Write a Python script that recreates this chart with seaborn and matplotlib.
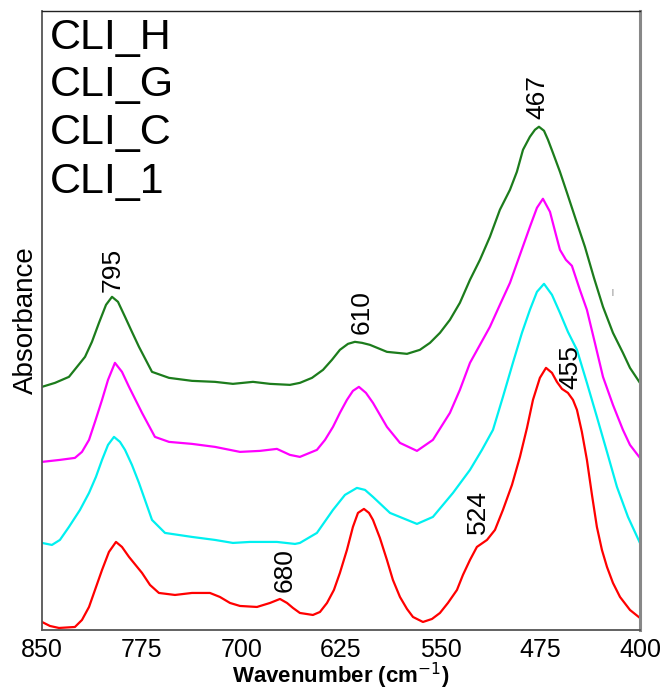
import numpy as np
import pandas as pd
import matplotlib
matplotlib.use("Agg")
import matplotlib.pyplot as plt
import seaborn as sns

# spectra (wavenumber in cm-1, absorbance in arbitrary stacked units)
wn_h = [850, 840.2, 829.7, 817.6, 812.4, 807.1, 801.8, 797.3, 792.8, 787.5, 782.3, 777.0, 767.2,
        754.4, 737.1, 719.8, 706.3, 691.2, 678.4, 663.4, 655.9, 646.8, 638.5, 631.8, 625.8, 619.7,
        614.5, 609.2, 603.2, 590.4, 575.3, 565.6, 558.0, 550.5, 543.0, 535.5, 527.9, 520.4, 512.9,
        505.4, 497.8, 492.6, 488.0, 482.8, 479.0, 476.0, 472.2, 469.2, 465.5, 460.2, 454.9, 448.2,
        441.4, 434.6, 427.8, 420.3, 412.8, 407.5, 400]
abs_h = [2.43, 2.47, 2.53, 2.73, 2.88, 3.07, 3.25, 3.33, 3.28, 3.13, 2.98, 2.83, 2.58, 2.52, 2.49,
         2.48, 2.46, 2.48, 2.46, 2.45, 2.47, 2.52, 2.60, 2.70, 2.80, 2.86, 2.88, 2.87, 2.85, 2.78,
         2.76, 2.80, 2.87, 2.97, 3.10, 3.27, 3.50, 3.70, 3.93, 4.20, 4.40, 4.58, 4.80, 4.93, 5.00,
         5.03, 4.99, 4.90, 4.77, 4.58, 4.37, 4.10, 3.83, 3.52, 3.23, 2.97, 2.77, 2.62, 2.47]

wn_g = [850, 836.5, 825.2, 819.9, 814.6, 810.1, 804.8, 800.3, 795.1, 789.8, 784.5, 774.7, 765.0,
        754.4, 737.1, 719.8, 701.0, 686.0, 673.2, 663.4, 655.9, 643.1, 637.0, 631.0, 625.8, 620.5,
        616.0, 611.5, 606.2, 600.9, 590.4, 580.6, 567.8, 555.8, 543.0, 535.5, 527.9, 520.4, 512.9,
        505.4, 497.8, 490.3, 482.8, 477.5, 473.0, 467.7, 463.2, 460.2, 455.7, 451.2, 445.2, 439.9,
        433.9, 427.8, 420.3, 412.8, 407.5, 400]
abs_g = [1.68, 1.70, 1.72, 1.78, 1.90, 2.08, 2.30, 2.50, 2.67, 2.58, 2.43, 2.17, 1.93, 1.88, 1.86,
         1.83, 1.78, 1.79, 1.81, 1.75, 1.73, 1.80, 1.90, 2.03, 2.17, 2.30, 2.39, 2.43, 2.37, 2.27,
         2.03, 1.87, 1.79, 1.90, 2.17, 2.40, 2.67, 2.85, 3.03, 3.25, 3.47, 3.75, 4.03, 4.22, 4.31,
         4.18, 3.95, 3.80, 3.70, 3.64, 3.40, 3.20, 2.87, 2.53, 2.25, 2.00, 1.85, 1.72]

wn_c = [850, 842.5, 836.5, 829.7, 821.4, 814.6, 809.4, 804.8, 800.3, 795.8, 791.3, 787.5, 782.3,
        777.0, 771.7, 767.2, 757.4, 737.1, 719.8, 706.3, 693.5, 673.2, 659.6, 655.9, 643.1, 631.0,
        622.0, 613.0, 606.9, 600.9, 588.1, 567.8, 555.8, 540.7, 527.9, 518.9, 510.6, 503.1, 495.6,
        488.8, 482.8, 477.5, 472.2, 466.2, 460.2, 454.2, 447.4, 439.9, 432.4, 424.8, 417.3, 409.0, 400]
abs_c = [0.87, 0.85, 0.90, 1.03, 1.20, 1.37, 1.53, 1.70, 1.85, 1.93, 1.88, 1.80, 1.65, 1.47, 1.27,
         1.10, 0.97, 0.93, 0.90, 0.87, 0.88, 0.88, 0.86, 0.87, 0.97, 1.20, 1.35, 1.42, 1.40, 1.33,
         1.17, 1.06, 1.13, 1.37, 1.60, 1.80, 2.00, 2.33, 2.67, 2.97, 3.20, 3.38, 3.46, 3.35, 3.17,
         2.98, 2.80, 2.47, 2.13, 1.78, 1.43, 1.13, 0.87]

wn_1 = [850, 844.0, 837.2, 825.2, 819.9, 814.6, 810.1, 804.8, 799.6, 794.3, 789.8, 784.5, 774.7,
        768.7, 762.0, 749.9, 737.1, 723.6, 716.1, 708.5, 701.0, 688.2, 678.4, 670.9, 665.6, 661.1,
        655.9, 646.1, 640.8, 635.5, 630.3, 625.8, 620.5, 616.0, 612.2, 607.7, 603.9, 600.9, 595.7,
        590.4, 585.9, 580.6, 575.3, 570.8, 563.3, 556.5, 550.5, 544.5, 537.7, 533.2, 527.9, 522.7,
        515.1, 509.1, 503.1, 496.3, 490.3, 485.0, 480.5, 475.3, 470.7, 466.2, 462.5, 458.7, 454.2,
        450.4, 447.4, 443.7, 439.9, 436.1, 432.4, 428.6, 424.8, 420.3, 415.0, 407.5, 400]
abs_1 = [0.08, 0.04, 0.02, 0.03, 0.10, 0.23, 0.40, 0.60, 0.78, 0.88, 0.83, 0.73, 0.57, 0.45, 0.37,
         0.35, 0.37, 0.37, 0.33, 0.27, 0.24, 0.23, 0.27, 0.31, 0.27, 0.22, 0.17, 0.15, 0.18, 0.27,
         0.40, 0.57, 0.80, 1.03, 1.17, 1.21, 1.17, 1.10, 0.92, 0.70, 0.50, 0.33, 0.21, 0.13, 0.08,
         0.11, 0.17, 0.27, 0.40, 0.55, 0.70, 0.83, 0.90, 1.00, 1.20, 1.45, 1.73, 2.02, 2.30, 2.52,
         2.62, 2.57, 2.48, 2.41, 2.37, 2.30, 2.20, 1.98, 1.70, 1.35, 1.03, 0.80, 0.63, 0.47, 0.33,
         0.20, 0.12]

samples = ["CLI_H", "CLI_G", "CLI_C", "CLI_1"]
colors = ["#1c7c1c", "#ff00ff", "#00f0f0", "#ff0000"]
xticks = [850, 775, 700, 625, 550, 475, 400]
peak_labels = ["795", "610", "467", "680", "524", "455"]

df = pd.concat([
    pd.DataFrame({"wn": wn_h, "A": abs_h, "sample": "CLI_H"}),
    pd.DataFrame({"wn": wn_g, "A": abs_g, "sample": "CLI_G"}),
    pd.DataFrame({"wn": wn_c, "A": abs_c, "sample": "CLI_C"}),
    pd.DataFrame({"wn": wn_1, "A": abs_1, "sample": "CLI_1"}),
], ignore_index=True)

sns.set_style("white")
plt.rcParams["font.family"] = ["Liberation Sans", "DejaVu Sans"]
plt.rcParams["text.color"] = "black"
plt.rcParams["axes.labelcolor"] = "black"
plt.rcParams["xtick.color"] = "black"

fig = plt.figure(figsize=(6.6, 6.9), dpi=100)
ax = fig.add_axes([0.0636, 0.087, 0.906, 0.8975])

sns.lineplot(data=df, x="wn", y="A", hue="sample", hue_order=samples,
             palette=colors, linewidth=1.6, legend=False, ax=ax, estimator=None,
             solid_joinstyle="round", solid_capstyle="round")

ax.set_xlim(850, 400)
ax.set_ylim(0, 6.19)
ax.set_xticks(xticks)
ax.set_xticklabels([str(t) for t in xticks], fontsize=18)
ax.set_yticks([])
ax.tick_params(axis="x", direction="out", length=4, width=1, color="#444444", pad=2)
ax.set_xlabel("Wavenumber (cm$^{-1}$)", fontsize=16, fontweight="bold", labelpad=-1)
ax.set_ylabel("Absorbance", fontsize=20, labelpad=2)

for side in ["left", "bottom"]:
    ax.spines[side].set_color("#555555")
    ax.spines[side].set_linewidth(1.3)
ax.spines["top"].set_color("#222222")
ax.spines["top"].set_linewidth(1.0)
ax.spines["right"].set_color("#888888")
ax.spines["right"].set_linewidth(2.2)

# sample names, top to bottom
for name, ypos in zip(samples, [0.956, 0.880, 0.8025, 0.723]):
    ax.text(0.013, ypos, name, transform=ax.transAxes, fontsize=31,
            ha="left", va="center")

# peak annotations
ann_pos = [(796.6, 3.60), (609.2, 3.18), (477.5, 5.33), (667.1, 0.60), (521.9, 1.18), (452.7, 2.63)]
for lab, (px, py) in zip(peak_labels, ann_pos):
    ax.text(px, py, lab, rotation=90, fontsize=19, ha="center", va="center")

ax.text(421, 3.37, "|", fontsize=5, color="#555555", ha="center", va="center")

fig.savefig("out.png", dpi=100)
